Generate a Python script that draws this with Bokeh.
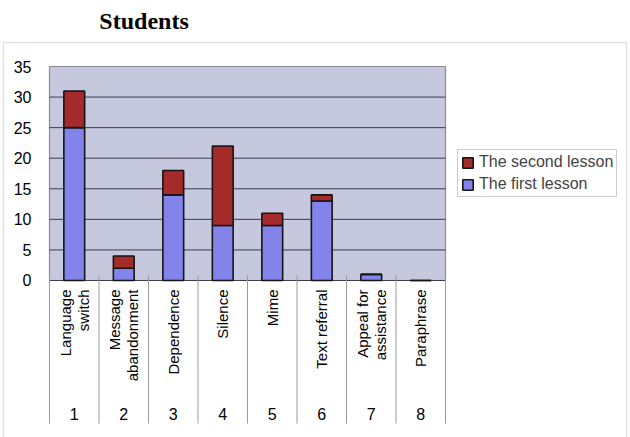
import math
from bokeh.plotting import figure
from bokeh.models import (ColumnDataSource, Range1d, LinearAxis, FixedTicker,
                          Legend, LegendItem, Label, BoxAnnotation)
from bokeh.core.properties import value
from bokeh.embed import file_html
from bokeh.resources import INLINE

# ---- data ----
categories = ["Language\nswitch", "Message\nabandonment", "Dependence", "Silence",
              "Mime", "Text referral", "Appeal for\nassistance", "Paraphrase"]
numbers = ["1", "2", "3", "4", "5", "6", "7", "8"]
first_lesson = [25, 2, 14, 9, 9, 13, 1, 0]
second_lesson = [6, 2, 4, 13, 2, 1, 0, 0]
y_ticks = [0, 5, 10, 15, 20, 25, 30, 35]
series_names = ["The first lesson", "The second lesson"]
title_text = "Students"

# ---- styles ----
BLUE = "#8284EC"
RED = "#A52A2A"
BG = "#C6C8DE"
GRID = "#3C3C4C"
FONT = "Liberation Sans"

n = len(categories)
xc = [i + 0.5 for i in range(n)]
y_top = max(y_ticks)

# the frame covers the whole page; plot area spans x 0..n, y 0..35
X_LEFT, X_RIGHT = -0.9899, 11.737
Y_BOTTOM, Y_TOP = -25.678, 45.795
SEP_BOTTOM = -23.39

src = ColumnDataSource(dict(x=xc, first=first_lesson, second=second_lesson))

p = figure(width=630, height=437, output_backend="svg", toolbar_location=None,
           x_axis_type=None, y_axis_type=None,
           x_range=Range1d(X_LEFT, X_RIGHT), y_range=Range1d(Y_BOTTOM, Y_TOP),
           min_border=0)
p.outline_line_color = None
p.background_fill_color = "white"
p.border_fill_color = "white"

# plot-area background
p.quad(left=0, right=n, bottom=0, top=y_top, fill_color=BG,
       line_color="#8A8A98", line_width=1.2, level="image")

# gridlines (limited to plot area)
grid_y = y_ticks[:-1]
p.segment(x0=[0] * len(grid_y), x1=[n] * len(grid_y), y0=grid_y, y1=grid_y,
          line_color=GRID, line_width=1, level="underlay")

# y axis fixed at the plot-area left edge
yaxis = LinearAxis(ticker=FixedTicker(ticks=y_ticks), fixed_location=0)
yaxis.axis_line_color = None
yaxis.major_tick_line_color = None
yaxis.minor_tick_line_color = None
yaxis.major_label_standoff = 12
yaxis.major_label_text_font = FONT
yaxis.major_label_text_font_size = "16px"
yaxis.major_label_text_color = "black"
p.add_layout(yaxis, "left")

# stacked bars
rs = p.vbar_stack(["first", "second"], x="x", width=0.42, source=src,
                  fill_color=[BLUE, RED], line_color="#151515", line_width=1.6)

# category separators below the plot area
p.segment(x0=list(range(n + 1)), y0=[0.8] * (n + 1), x1=list(range(n + 1)),
          y1=[SEP_BOTTOM] * (n + 1), line_color="#9A9A9A", line_width=1)

# rotated category labels
p.text(x=xc, y=[-1.47] * n, text=categories, angle=math.pi / 2,
       text_align="right", text_baseline="middle", text_font=value(FONT),
       text_font_size="15px", text_line_height=1.05, text_color="black")

# numbers row
p.text(x=xc, y=[-21.9] * n, text=numbers, text_align="center",
       text_baseline="middle", text_font=value(FONT), text_font_size="16px",
       text_color="black")

# legend (reversed order as in reference)
legend = Legend(items=[LegendItem(label=series_names[1], renderers=[rs[1]]),
                       LegendItem(label=series_names[0], renderers=[rs[0]])],
                location=(457, 240))
legend.label_text_font = FONT
legend.label_text_font_size = "16px"
legend.glyph_width = 13
legend.glyph_height = 13
legend.label_standoff = 5
legend.padding = 3
legend.spacing = 4
legend.label_height = 14
legend.border_line_color = "#999999"
legend.border_line_width = 1
legend.background_fill_color = "white"
legend.margin = 0
p.add_layout(legend)

# outer chart box
p.add_layout(BoxAnnotation(left=-0.93, right=11.657, top=38.93, bottom=-30,
                           fill_alpha=0, line_color="#A0A0A0", line_width=1.5))

# page title
p.add_layout(Label(x=1.91, y=42.5, text=title_text, text_align="center",
                   text_baseline="alphabetic", text_font="Liberation Serif",
                   text_font_style="bold", text_font_size="24px",
                   text_color="black"))

open("out.html", "w").write(file_html(p, INLINE))
